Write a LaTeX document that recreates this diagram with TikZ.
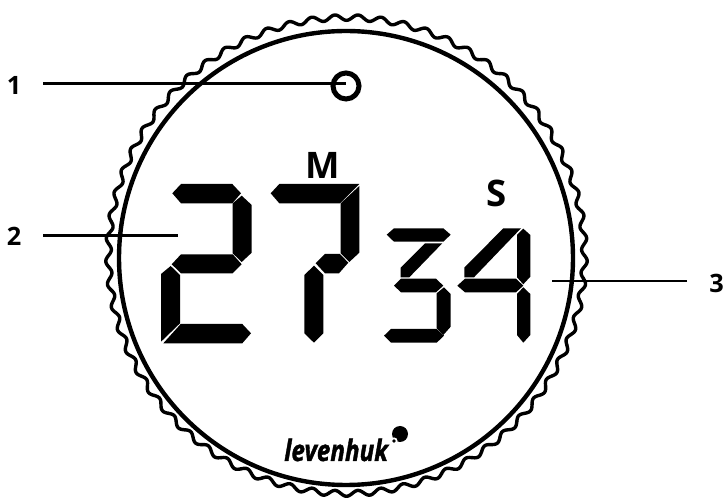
\documentclass[tikz,border=0pt]{standalone}
\usepackage{fontspec}
\setmainfont{Open Sans}
\begin{document}
\begin{tikzpicture}[
  x=0.025cm, y=-0.025cm,
  seg/.style={fill=black},
  ring/.style={draw=black, line width=0.11cm},
  wave/.style={draw=black, line width=0.085cm, line cap=round},
  lead/.style={draw=black, line width=0.055cm},
  lbl/.style={font=\bfseries\fontsize{18}{18}\selectfont, inner sep=0pt, minimum width=1.45cm},
  unit/.style={font=\bfseries\fontsize{26}{26}\selectfont, inner sep=0pt}
]
\useasboundingbox (0,0) rectangle (726,504);
% bezel
\draw[ring] (346,258) circle (227);
\foreach \k in {0,...,64}
  \draw[wave, rotate around={\k*5.53846:(346.5,255.5)}] plot[domain=0:360, samples=21, smooth]
    ({346.5+(238+2.8*sin(\x))*cos(\x/65)}, {255.5+(238+2.8*sin(\x))*sin(\x/65)});
\node[draw=black, line width=0.125cm, circle, minimum size=0.65cm, inner sep=0pt] (lamp) at (346,86) {};
% first 2
\fill[seg] (172.3,193.3) -- (181,184) -- (232.3,184) -- (241,193.3) -- (232.3,203.3) -- (181,203.3) -- cycle;
\fill[seg] (241.7,195.7) -- (251.7,205) -- (251.7,252.7) -- (241.7,262) -- (232.7,253.3) -- (232.7,203.3) -- cycle;
\fill[seg] (171.7,264.3) -- (181,254.3) -- (232.7,254.3) -- (241.7,264.3) -- (232.7,273.3) -- (181,273.3) -- cycle;
\fill[seg] (170.7,266) -- (180,275) -- (180,323.3) -- (161,341.7) -- (161,274) -- cycle;
\fill[seg] (163.3,343.3) -- (180.7,324) -- (242.3,324) -- (251,333.3) -- (242.3,343.3) -- cycle;
% 7
\fill[seg] (270.7,193.3) -- (279.3,184) -- (359.3,184) -- (340,203.3) -- (279.3,203.3) -- cycle;
\fill[seg] (359.3,186) -- (359.3,252.7) -- (349.3,262) -- (340.7,253.3) -- (340.7,203.3) -- cycle;
\fill[seg] (315.7,263.3) -- (325,254) -- (340,254) -- (348.3,262.7) -- (339,273.3) -- (325,273.3) -- cycle;
\fill[seg] (314,265.7) -- (323.3,275) -- (323.3,333.3) -- (314,342.7) -- (304.3,333.3) -- (304.3,275) -- cycle;
% 3
\fill[seg] (386.7,234.7) -- (394,228.3) -- (443.3,228.3) -- (450.7,234.7) -- (443.3,241.7) -- (394,241.7) -- cycle;
\fill[seg] (425,243.3) -- (442.3,243.3) -- (409.3,277.3) -- (400.7,277.3) -- (400.7,267.7) -- cycle;
\fill[seg] (394,285.7) -- (401,278.7) -- (436,278.7) -- (443.3,285.7) -- (436,292.3) -- (401,292.3) -- cycle;
\fill[seg] (444,287.3) -- (450.7,294) -- (450.7,326.7) -- (443.3,335) -- (436.7,328.3) -- (436.7,293.3) -- cycle;
\fill[seg] (384,335.7) -- (391,329) -- (436.7,329) -- (444,335.7) -- (436.7,342.7) -- (391,342.7) -- cycle;
% 4
\fill[seg] (503.3,228.3) -- (521,228.3) -- (474,277.3) -- (464.3,277.3) -- (464.3,267.7) -- cycle;
\fill[seg] (523.3,228.7) -- (530.3,235) -- (530.3,276.7) -- (523.3,284.3) -- (517,277.3) -- (517,235) -- cycle;
\fill[seg] (457.3,285.7) -- (465,278.7) -- (516,278.7) -- (523.3,285.7) -- (516,292.3) -- (465,292.3) -- cycle;
\fill[seg] (523.3,287.3) -- (530.3,294) -- (530.3,335) -- (523.3,342.7) -- (517,335) -- (517,294) -- cycle;
% units
\node[unit] (min) at (323,165) {M};
\node[unit] (sec) at (497,193) {S};
% logo
\node[font=\bfseries\itshape\fontsize{21}{21}\selectfont\addfontfeature{FakeBold=1.5}, inner sep=0pt, anchor=base west] (logo) at (284,461) {\scalebox{0.82}[1]{levenhuk}};
\fill[seg] (400,434) circle (8);
\fill[white] (394,441) circle (3.6);
\fill[seg] (394,441) circle (1.8);
% labels
\node[lbl] (lbl1) at (14,85) {1};
\node[lbl] (lbl2) at (14,236) {2};
\node[lbl] (lbl3) at (716.5,283) {3};
\coordinate (end1) at (346,83.5);
\coordinate (end2) at (178,235.5);
\coordinate (end3) at (552,281);
\draw[lead] (lbl1.east |- end1) -- (end1);
\draw[lead] (lbl2.east |- end2) -- (end2);
\draw[lead] (lbl3.west |- end3) -- (end3);
\end{tikzpicture}
\end{document}
